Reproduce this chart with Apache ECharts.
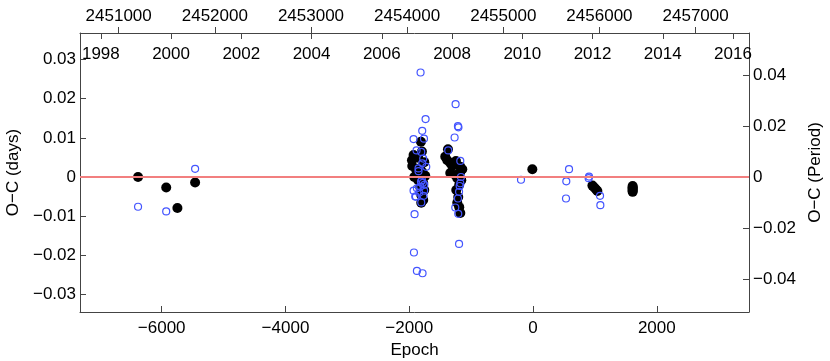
<!DOCTYPE html>
<html>
<head>
<meta charset="utf-8">
<script src="https://cdn.jsdelivr.net/npm/echarts@6/dist/echarts.min.js"></script>
<style>
  html, body { margin: 0; padding: 0; background: #fff; }
  #main { width: 830px; height: 361px; }
</style>
</head>
<body>
<div id="main"></div>
<script type="text/javascript">
    // filled black points (epoch, O-C in days)
    var blackEpoch = [-6382, -5927, -5746, -5460,
        -1811, -1795, -1930, -1956, -1855, -1757, -1951, -1887, -1822, -1790, -1741, -1919, -1855, -1774, -1822, -1757, -1806, -1774, -1806,
        -1374, -1418, -1386, -1337, -1305, -1245, -1175, -1143, -1337, -1256, -1175, -1224, -1159, -1192, -1240, -1208, -1224, -1192, -1175,
        -11, 960, 990, 1020, 1040,
        1610, 1610, 1610, 1610, 1610, 1610];
    var blackOC = [0.0, -0.0027, -0.0079, -0.0014,
        0.0090, 0.0065, 0.0056, 0.0043, 0.0049, 0.0038, 0.0028, 0.0018, 0.0023, 0.0013, 0.0003, 0.0000, -0.0008, -0.0015, -0.0026, -0.0033, -0.0046, -0.0059, -0.0066,
        0.0071, 0.0052, 0.0043, 0.0036, 0.0028, 0.0041, 0.0026, 0.0020, 0.0010, 0.0005, 0.0013, -0.0003, -0.0008, -0.0020, -0.0033, -0.0051, -0.0066, -0.0077, -0.0092,
        0.0020, -0.0022, -0.0027, -0.0032, -0.0036,
        -0.0023, -0.0026, -0.0029, -0.0032, -0.0035, -0.0038];

    // open blue points (epoch, O-C in days)
    var blueEpoch = [-6382, -5927, -5460,
        -1817, -1736, -1790, -1930, -1762, -1882, -1806, -1774, -1725, -1850, -1795, -1930, -1876, -1822, -1769, -1892, -1806, -1914, -1924, -1876, -1785,
        -1850, -1790, -1780, -1760, -1840, -1810, -1903, -1757,
        -1251, -1213, -1205, -1267, -1370, -1175, -1164, -1185, -1195, -1213, -1256, -1208, -1195, -1175,
        -194, 582, 538, 533, 899, 905, 1083, 1088];
    var blueOC = [-0.0076, -0.0088, 0.0021,
        0.0267, 0.0148, 0.0118, 0.0097, 0.0098, 0.0068, 0.0064, 0.0047, 0.0026, 0.0015, -0.0008, -0.0035, -0.0029, -0.0025, -0.0048, -0.0050, -0.0065, -0.0095, -0.0193, -0.0240, -0.0246,
        0.0022, 0.0035, -0.0015, -0.0035, -0.0040, -0.0012, -0.0050, -0.0020,
        0.0186, 0.0130, 0.0127, 0.0101, 0.0068, 0.0041, 0.0000, -0.0023, -0.0038, -0.0055, -0.0078, -0.0094, -0.0171, -0.0016,
        -0.0007, 0.0020, -0.0011, -0.0055, -0.0003, 0.0001, -0.0048, -0.0072];

    // tick labels
    var epochTicks = [-6000, -4000, -2000, 0, 2000];
    var jdTicks = [2451000, 2452000, 2453000, 2454000, 2455000, 2456000, 2457000];
    var yearTicks = [1998, 2000, 2002, 2004, 2006, 2008, 2010, 2012, 2014, 2016];
    var daysTicks = [-0.03, -0.02, -0.01, 0, 0.01, 0.02, 0.03];
    var periodTicks = [-0.04, -0.02, 0, 0.02, 0.04];

    // axis extents
    var epochMin = -7320, epochMax = 3490;
    var T0 = 2455309, P = 0.6436;
    var jdMin = T0 + P * epochMin, jdMax = T0 + P * epochMax;
    var yearMin = 2000 + (jdMin - 2451545) / 365.25;
    var yearMax = 2000 + (jdMax - 2451545) / 365.25;
    var daysMin = -0.0345, daysMax = 0.0368;
    var perMin = -0.0529, perMax = 0.0565;

    function pairs(xs, ys) {
        var out = [];
        for (var i = 0; i < xs.length; i++) out.push([xs[i], ys[i]]);
        return out;
    }
    function minus(v) { return String(v).replace('-', '\u2212'); }

    var font = '"Liberation Sans", Arial, Helvetica, sans-serif';
    var lineCol = '#444';
    var labelBase = { color: '#000', fontSize: 17, fontFamily: font };

    var myChart = echarts.init(document.getElementById('main'));
    myChart.setOption({
        animation: false,
        grid: { left: 80, right: 81, top: 33, bottom: 49, outerBoundsMode: 'none' },
        xAxis: [
            {
                type: 'value', position: 'bottom', min: epochMin, max: epochMax,
                name: 'Epoch', nameLocation: 'middle', nameGap: 27,
                nameTextStyle: { color: '#000', fontSize: 17, fontFamily: font },
                axisLine: { onZero: false, lineStyle: { color: lineCol, width: 1 } },
                axisTick: { inside: true, length: 6, customValues: epochTicks, lineStyle: { color: lineCol } },
                axisLabel: Object.assign({ margin: 8, customValues: epochTicks, formatter: minus }, labelBase),
                splitLine: { show: false }
            },
            {
                type: 'value', position: 'top', min: jdMin, max: jdMax,
                axisLine: { onZero: false, lineStyle: { color: lineCol, width: 1 } },
                axisTick: { inside: false, length: 6, customValues: jdTicks, lineStyle: { color: lineCol } },
                axisLabel: Object.assign({ margin: 8, customValues: jdTicks, formatter: function (v) { return String(v); } }, labelBase),
                splitLine: { show: false }
            },
            {
                type: 'value', position: 'top', min: yearMin, max: yearMax,
                axisLine: { show: false, onZero: false },
                axisTick: { inside: true, length: 6, customValues: yearTicks, lineStyle: { color: lineCol } },
                axisLabel: Object.assign({ inside: true, margin: 13, customValues: yearTicks, formatter: function (v) { return String(v); } }, labelBase),
                splitLine: { show: false }
            }
        ],
        yAxis: [
            {
                type: 'value', position: 'left', min: daysMin, max: daysMax,
                name: 'O\u2212C (days)', nameLocation: 'middle', nameGap: 57,
                nameTextStyle: { color: '#000', fontSize: 17, fontFamily: font },
                axisLine: { show: true, onZero: false, lineStyle: { color: lineCol, width: 1 } },
                axisTick: { show: true, inside: true, length: 6, customValues: daysTicks, lineStyle: { color: lineCol } },
                axisLabel: Object.assign({ margin: 4, customValues: daysTicks, formatter: minus }, labelBase),
                splitLine: { show: false }
            },
            {
                type: 'value', position: 'right', min: perMin, max: perMax,
                name: 'O\u2212C (Period)', nameLocation: 'middle', nameGap: 58, nameRotate: 90,
                nameTextStyle: { color: '#000', fontSize: 17, fontFamily: font },
                axisLine: { show: true, onZero: false, lineStyle: { color: lineCol, width: 1 } },
                axisTick: { show: true, inside: true, length: 6, customValues: periodTicks, lineStyle: { color: lineCol } },
                axisLabel: Object.assign({ margin: 4, customValues: periodTicks, formatter: minus }, labelBase),
                splitLine: { show: false }
            }
        ],
        series: [
            {
                type: 'line', data: [], z: 1, silent: true,
                markLine: {
                    silent: true, symbol: 'none', label: { show: false },
                    lineStyle: { color: '#f27f7f', width: 2, type: 'solid' },
                    data: [{ yAxis: 0 }]
                }
            },
            {
                name: 'black', type: 'scatter', z: 2,
                data: pairs(blackEpoch, blackOC),
                symbol: 'circle', symbolSize: 10,
                itemStyle: { color: '#000', opacity: 1 }
            },
            {
                name: 'blue', type: 'scatter', z: 3,
                data: pairs(blueEpoch, blueOC),
                symbol: 'circle', symbolSize: 7,
                itemStyle: { color: 'rgba(0,0,0,0)', borderColor: '#4455ff', borderWidth: 1.2, opacity: 1 }
            }
        ]
    });
</script>
</body>
</html>
